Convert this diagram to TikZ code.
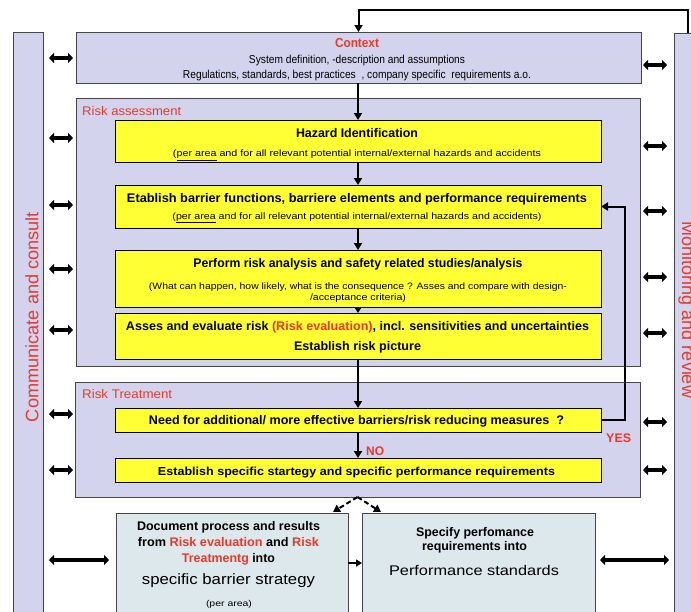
\documentclass[tikz,border=0pt]{standalone}
\usepackage{fontspec}
\setmainfont{Liberation Sans}
\usetikzlibrary{arrows.meta}
\definecolor{lav}{RGB}{211,211,237}
\definecolor{yel}{RGB}{255,255,51}
\definecolor{pale}{RGB}{220,232,236}
\definecolor{rd}{RGB}{232,58,42}
\definecolor{edge}{RGB}{70,70,70}
\newcommand{\fw}[2]{\resizebox{#1pt}{\height}{#2}}
\newcommand{\fs}[1]{\fontsize{#1}{#1}\selectfont}
\begin{document}
\begin{tikzpicture}[x=1pt,y=-1pt,
 lavbox/.style={draw=edge, fill=lav, line width=0.9pt, inner sep=0pt, outer sep=0pt, anchor=north west},
 yelbox/.style={draw=black, fill=yel, line width=0.9pt, inner sep=0pt, outer sep=0pt, anchor=north west},
 palebox/.style={draw=edge, fill=pale, line width=0.9pt, inner sep=0pt, outer sep=0pt, anchor=north west},
 txt/.style={inner sep=0pt, anchor=base},
 lbl/.style={inner sep=0pt, anchor=base west},
 flow/.style={line width=2pt, -{Triangle[length=7pt,width=8pt]}},
 sflow/.style={line width=1.5pt, -{Triangle[length=6pt,width=7pt]}},
 bidir/.style={line width=4.5pt, {Triangle[length=5pt,width=10pt]}-{Triangle[length=5pt,width=10pt]}},
 dflow/.style={line width=2pt, dash pattern=on 5pt off 3pt, -{Triangle[length=7pt,width=8pt]}},
]
\useasboundingbox (0,0) rectangle (691,611);
\clip (0,0) rectangle (691,611);
\fill[white] (0,0) rectangle (691,611);

% side columns
\node[lavbox, minimum width=30pt, minimum height=600pt] (leftcol) at (13,32) {};
\node[lavbox, minimum width=28pt, minimum height=600pt] (rightcol) at (674,33) {};
\node[txt, rotate=90, text=rd] (cc) at (38.3,317) {\fw{210}{\fs{18}Communicate and consult}};
\node[txt, rotate=-90, text=rd] (mr) at (682,310) {\fs{18}Monitoring and review};

% context
\node[lavbox, minimum width=565pt, minimum height=51pt] (context) at (76,32) {};
\node[txt, text=rd] (ctxt) at (357,47.7) {\fw{44}{\bfseries\fs{13}Context}};
\node[txt] (ctx1) at (357,63) {\fw{216}{\fs{11.5}System definition, -description and assumptions}};
\node[txt] (ctx2) at (357,78) {\fw{348}{\fs{11.5}Regulaticns, standards, best practices\ \ , company specific\ \ requirements a.o.}};

% risk assessment
\node[lavbox, minimum width=564pt, minimum height=268pt] (riskass) at (76,98) {};
\node[lbl, text=rd] (ralab) at (82,115) {\fw{99}{\fs{12.5}Risk assessment}};

\node[yelbox, minimum width=486pt, minimum height=42pt] (hazard) at (115,120) {};
\node[txt] (hz1) at (357,137.3) {\fw{122}{\bfseries\fs{12.5}Hazard Identification}};
\node[txt] (hz2) at (357,156.7) {\fw{368}{\fs{9.3}(\underline{per area} and for all relevant potential internal/external hazards and accidents}};

\node[yelbox, minimum width=486pt, minimum height=43pt] (etab) at (115,185) {};
\node[txt] (et1) at (357,202.3) {\fw{460}{\bfseries\fs{12.5}Etablish barrier functions, barriere elements and performance requirements}};
\node[txt] (et2) at (357,219) {\fw{369}{\fs{9.3}(\underline{per area} and for all relevant potential internal/external hazards and accidents)}};

\node[yelbox, minimum width=486pt, minimum height=57pt] (perform) at (115,250) {};
\node[txt] (pf1) at (358,267.3) {\fw{329}{\bfseries\fs{12.5}Perform risk analysis and safety related studies/analysis}};
\node[txt] (pf2) at (358,289) {\fw{418}{\fs{9.3}(What can happen, how likely, what is the consequence ? Asses and compare with design-}};
\node[txt] (pf3) at (358,300) {\fw{96}{\fs{9.3}/acceptance criteria)}};

\node[yelbox, minimum width=486pt, minimum height=46pt] (asses) at (115,313) {};
\node[txt] (as1) at (357.5,330) {\fw{463}{\bfseries\fs{12.5}Asses and evaluate risk \textcolor{rd}{(Risk evaluation)}, incl. sensitivities and uncertainties}};
\node[txt] (as2) at (357.5,350.7) {\fw{127}{\bfseries\fs{12.5}Establish risk picture}};

% risk treatment
\node[lavbox, minimum width=565pt, minimum height=115pt] (risktreat) at (75,382) {};
\node[lbl, text=rd] (rtlab) at (82,398) {\fw{90}{\fs{12.5}Risk Treatment}};

\node[yelbox, minimum width=486pt, minimum height=24pt] (need) at (115,408) {};
\node[txt] (nd1) at (356.5,424.3) {\fw{415}{\bfseries\fs{12.5}Need for additional/ more effective barriers/risk reducing measures\ \ ?}};

\node[yelbox, minimum width=486pt, minimum height=24pt] (estspec) at (115,458) {};
\node[txt] (es1) at (356.5,475) {\fw{397}{\bfseries\fs{11.6}Establish specific startegy and specific performance requirements}};

\node[lbl, text=rd] (nolab) at (366,455) {\fw{18}{\bfseries\fs{12.5}NO}};
\node[lbl, text=rd] (yeslab) at (606,442.7) {\fw{25}{\bfseries\fs{12.5}YES}};

% bottom boxes
\node[palebox, minimum width=232pt, minimum height=120pt] (docbox) at (116,513) {};
\node[txt] (dc1) at (228.5,530.7) {\fw{183}{\bfseries\fs{12.5}Document process and results}};
\node[txt] (dc2) at (228.5,546.7) {\fw{181}{\bfseries\fs{12.5}from \textcolor{rd}{Risk evaluation} and \textcolor{rd}{Risk}}};
\node[txt] (dc3) at (228.5,562.3) {\fw{93}{\bfseries\fs{12.5}\textcolor{rd}{Treatmentg} into}};
\node[txt] (dc4) at (228.5,584.3) {\fw{173}{\fs{15}specific barrier strategy}};
\node[txt] (dc5) at (229,606) {\fw{46}{\fs{8.5}(per area)}};

\node[palebox, minimum width=233pt, minimum height=120pt] (perfbox) at (362,513) {};
\node[txt] (pb1) at (475,536) {\fw{118}{\bfseries\fs{12.5}Specify perfomance}};
\node[txt] (pb2) at (474.5,550.7) {\fw{105}{\bfseries\fs{12.5}requirements into}};
\node[txt] (pb3) at (474,575) {\fw{170}{\fs{14}Performance standards}};

% coordinates
\coordinate (loopc) at (688,10);
\coordinate (dl) at (333,512);
\coordinate (dr) at (381,512);
\coordinate (midy) at (0,563);

% flow connectors
\draw[flow] (rightcol.north) -- (loopc) -| (context.north);
\draw[flow] (hazard.north |- context.south) -- (hazard.north);
\draw[flow] (hazard.south) -- (etab.north);
\draw[flow] (etab.south) -- (perform.north);
\draw[sflow] (perform.south) -- (asses.north);
\draw[flow] (asses.south) -- (need.north);
\draw[flow] (need.south) -- (estspec.north);
\draw[flow] (need.east) -- ++(24,0) |- (etab.east);
\draw[dflow] (risktreat.south) -- (dl);
\draw[dflow] (risktreat.south) -- (dr);
\draw[sflow] (docbox.east |- midy) -- (perfbox.west |- midy);

% two-way arrows
\foreach \y [count=\i] in {58,138,205,269,330,414,470} {
  \coordinate (la\i) at (49,\y); \coordinate (lb\i) at (73,\y);
  \draw[bidir] (la\i) -- (lb\i);
}
\foreach \y [count=\i] in {65,146,211,277,333,422,470} {
  \coordinate (ra\i) at (643,\y); \coordinate (rb\i) at (667,\y);
  \draw[bidir] (ra\i) -- (rb\i);
}
\coordinate (lw1) at (49,560); \coordinate (lw2) at (109,560);
\coordinate (rw1) at (600,560); \coordinate (rw2) at (669,560);
\draw[bidir] (lw1) -- (lw2);
\draw[bidir] (rw1) -- (rw2);
\end{tikzpicture}
\end{document}
